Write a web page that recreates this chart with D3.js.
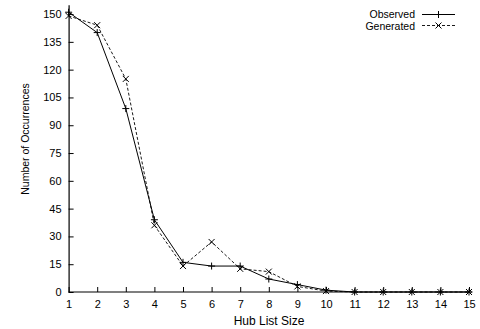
<!DOCTYPE html>
<html><head><meta charset="utf-8">
<script src="https://cdn.jsdelivr.net/npm/d3@7"></script>
<style>body{margin:0;background:#fff}svg text{font-family:"Liberation Sans",Arial,sans-serif;font-size:11px;fill:#000}</style>
</head><body><svg id="c" width="480" height="329"></svg>
<script>
const sizes = [1,2,3,4,5,6,7,8,9,10,11,12,13,14,15];
const observed = [151,140,99,39,16,14,14,7,4,1,0,0,0,0,0];
const generated = [149,144,115,36,14,27,12.5,11,3,0.5,0,0,0,0,0];
const yTicks = [0,15,30,45,60,75,90,105,120,135,150];

const svg = d3.select("#c");
const x = d3.scaleLinear().domain([1,15]).range([68.6,469]);
const y = d3.scaleLinear().domain([0,155]).range([292,4.8]);

// axes
const ax = svg.append("g").attr("transform","translate(0,292)")
  .call(d3.axisBottom(x).tickValues(sizes).tickFormat(d3.format("d")).tickSizeInner(-5).tickSizeOuter(0).tickPadding(8));
const ay = svg.append("g").attr("transform","translate(68.6,0)")
  .call(d3.axisLeft(y).tickValues(yTicks).tickSizeInner(-5).tickSizeOuter(0).tickPadding(7));
[ax,ay].forEach(g=>{
  g.selectAll("text").attr("font-family",null).attr("font-size",null);
  g.selectAll("line").attr("stroke","#000");
  g.select(".domain").attr("stroke","#000").attr("stroke-width",1.2);
});
ax.select(".domain").attr("d","M68.6,0H472");

const line = d3.line().x((d,i)=>x(sizes[i])).y(d=>y(d));
svg.append("path").datum(generated).attr("d",line).attr("fill","none").attr("stroke","#000").attr("stroke-width",0.9).attr("stroke-dasharray","3,2");
svg.append("path").datum(observed).attr("d",line).attr("fill","none").attr("stroke","#000").attr("stroke-width",1);

const plus = (g,cx,cy,s)=>g.append("path").attr("d",`M${cx-s},${cy}H${cx+s}M${cx},${cy-s}V${cy+s}`).attr("stroke","#000").attr("stroke-width",1);
const cross = (g,cx,cy,s)=>g.append("path").attr("d",`M${cx-s},${cy-s}L${cx+s},${cy+s}M${cx-s},${cy+s}L${cx+s},${cy-s}`).attr("stroke","#000").attr("stroke-width",1);
const mg = svg.append("g");
observed.forEach((d,i)=>plus(mg,x(sizes[i]),y(d),3.5));
generated.forEach((d,i)=>cross(mg,x(sizes[i]),y(d),3));

// legend
const lg = svg.append("g").style("font-size","10.5px");
lg.append("text").attr("x",415).attr("y",18).attr("text-anchor","end").style("font-size","10.5px").text("Observed");
lg.append("line").attr("x1",422).attr("x2",455).attr("y1",14.5).attr("y2",14.5).attr("stroke","#000");
plus(lg,438.5,14.5,3.5);
lg.append("text").attr("x",415).attr("y",29.5).attr("text-anchor","end").style("font-size","10.5px").text("Generated");
lg.append("line").attr("x1",422).attr("x2",455).attr("y1",25.5).attr("y2",25.5).attr("stroke","#000").attr("stroke-dasharray","3,2").attr("stroke-width",0.9);
cross(lg,438.5,25.5,3);

svg.append("text").attr("x",269).attr("y",325).attr("text-anchor","middle").style("font-size","12px").text("Hub List Size");
svg.append("text").attr("transform","translate(29,139) rotate(-90)").attr("text-anchor","middle").style("font-size","10.5px").text("Number of Occurrences");
</script></body></html>
